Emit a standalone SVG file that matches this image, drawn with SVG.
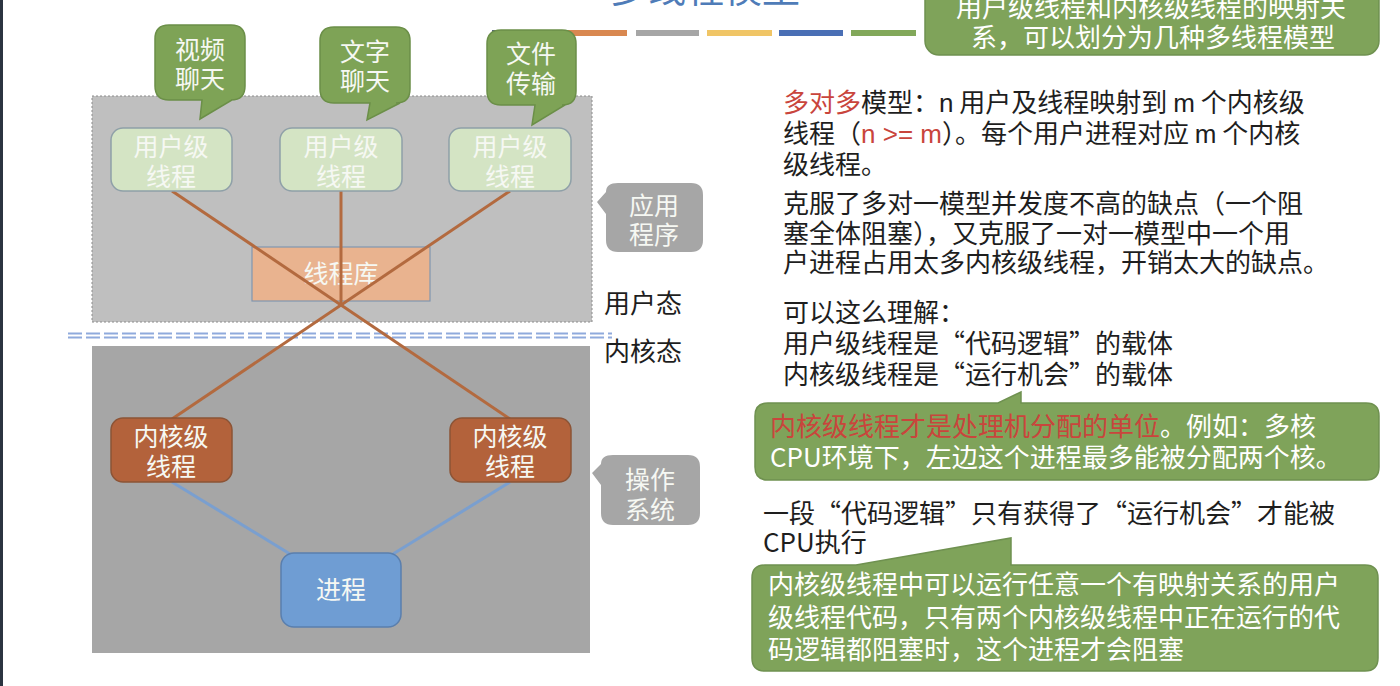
<svg xmlns="http://www.w3.org/2000/svg" width="1400" height="686" viewBox="0 0 1400 686">
<defs>
<style>
.cjk{font-family:"Noto Sans CJK SC","Noto Sans",sans-serif;}
.lbl{font-family:"Noto Sans CJK SC","Noto Sans",sans-serif;font-size:25px;fill:#f6f8f3;text-anchor:middle;}
.body{font-family:"Noto Sans CJK SC","Noto Sans",sans-serif;font-size:26px;fill:#1e1e1e;}
.wt{font-family:"Noto Sans CJK SC","Noto Sans",sans-serif;font-size:26px;fill:#ffffff;}
.red{fill:#c9453c;}
.bubble{fill:#7ea356;stroke:#6b8f48;stroke-width:1.5;}
.gcall{fill:#7fa35a;stroke:#6f9150;stroke-width:1.5;}
.ut{fill:#d4e4c4;stroke:#8fa0a8;stroke-width:1.5;}
.kt{fill:#b3623b;stroke:#8c5436;stroke-width:1.5;}
.gray{fill:#a6a6a6;}
.ol{stroke:#b36a3f;stroke-width:3;fill:none;}
.bl{stroke:#7a9fcf;stroke-width:3;fill:none;}
.sep{stroke:#8faadc;stroke-width:2;stroke-dasharray:14 4;fill:none;}
</style>
</defs>
<rect x="0" y="0" width="1400" height="686" fill="#ffffff"/>
<rect x="0" y="0" width="3" height="686" fill="#2b3440"/>

<!-- title and colour bars -->
<g id="title">
<text x="610" y="2" class="cjk" font-size="38" fill="#4f7cb8">多线程模型</text>
<rect x="492" y="30" width="66" height="6" fill="#56657a"/>
<rect x="563" y="30" width="64" height="6" fill="#d98850"/>
<rect x="636" y="30" width="63" height="6" fill="#a6a6a6"/>
<rect x="707" y="30" width="65" height="6" fill="#f0c566"/>
<rect x="779" y="30" width="64" height="6" fill="#4a6fb5"/>
<rect x="851" y="30" width="65" height="6" fill="#82a85a"/>
</g>

<!-- regions -->
<g id="user-space">
<rect x="92" y="96" width="500" height="226" fill="#bfbfbf" stroke="#8c8c8c" stroke-width="1" stroke-dasharray="2 2"/>
</g>
<g id="kernel-space">
<rect x="92" y="346" width="498" height="307" fill="#a6a6a6"/>
</g>
<g id="separator">
<line x1="68" y1="333.5" x2="612" y2="333.5" class="sep"/>
<line x1="68" y1="337.5" x2="612" y2="337.5" class="sep"/>
</g>

<!-- thread library -->
<g id="thread-lib">
<rect x="252" y="247" width="178" height="54" fill="#e9b38f" stroke="#8096b0" stroke-width="1.2"/>
<text x="341" y="283" class="lbl">线程库</text>
</g>

<!-- connectors -->
<g id="connectors">
<line x1="172" y1="191" x2="510" y2="419" class="ol"/>
<line x1="510" y1="191" x2="172" y2="419" class="ol"/>
<line x1="341" y1="191" x2="341" y2="304" class="ol"/>
<line x1="172" y1="482" x2="290" y2="554" class="bl"/>
<line x1="510" y1="482" x2="393" y2="554" class="bl"/>
</g>

<!-- speech bubbles -->
<g id="bubble-video">
<path d="M169,25 H231 Q245,25 245,39 V86 Q245,100 231,100 H232 L200,119 L202,100 H169 Q155,100 155,86 V39 Q155,25 169,25 Z" class="bubble"/>
<text x="200" y="59" class="lbl">视频</text>
<text x="200" y="88" class="lbl">聊天</text>
</g>
<g id="bubble-text">
<path d="M334,27 H396 Q410,27 410,41 V89 Q410,103 396,103 H400 L367,120 L370,103 H334 Q320,103 320,89 V41 Q320,27 334,27 Z" class="bubble"/>
<text x="365" y="61" class="lbl">文字</text>
<text x="365" y="90" class="lbl">聊天</text>
</g>
<g id="bubble-file">
<path d="M501,30 H562 Q576,30 576,44 V91 Q576,105 562,105 H565 L532,125 L535,105 H501 Q487,105 487,91 V44 Q487,30 501,30 Z" class="bubble"/>
<text x="531" y="63" class="lbl">文件</text>
<text x="531" y="93" class="lbl">传输</text>
</g>

<!-- user-level threads -->
<g id="ut1">
<rect x="111" y="128" width="121" height="63" rx="12" class="ut"/>
<text x="171" y="156" class="lbl">用户级</text>
<text x="171" y="186" class="lbl">线程</text>
</g>
<g id="ut2">
<rect x="280" y="128" width="122" height="63" rx="12" class="ut"/>
<text x="341" y="156" class="lbl">用户级</text>
<text x="341" y="186" class="lbl">线程</text>
</g>
<g id="ut3">
<rect x="449" y="128" width="122" height="63" rx="12" class="ut"/>
<text x="510" y="156" class="lbl">用户级</text>
<text x="510" y="186" class="lbl">线程</text>
</g>

<!-- kernel-level threads -->
<g id="kt1">
<rect x="111" y="418" width="121" height="64" rx="12" class="kt"/>
<text x="171" y="446" class="lbl">内核级</text>
<text x="171" y="476" class="lbl">线程</text>
</g>
<g id="kt2">
<rect x="450" y="418" width="121" height="64" rx="12" class="kt"/>
<text x="510" y="446" class="lbl">内核级</text>
<text x="510" y="476" class="lbl">线程</text>
</g>

<!-- process -->
<g id="process">
<rect x="281" y="553" width="120" height="74" rx="13" fill="#6f9dd3" stroke="#5a7fae" stroke-width="1.5"/>
<text x="341" y="599" class="lbl" font-size="27">进程</text>
</g>

<!-- side callouts -->
<g id="app-callout">
<path d="M618,183 H691 Q703,183 703,195 V240 Q703,252 691,252 H618 Q606,252 606,240 V214 L597,202 L606,192 Q606,183 618,183 Z" class="gray"/>
<text x="654" y="215" class="lbl" font-size="24">应用</text>
<text x="654" y="244" class="lbl" font-size="24">程序</text>
</g>
<g id="os-callout">
<path d="M613,455 H688 Q700,455 700,467 V513 Q700,525 688,525 H613 Q601,525 601,513 V485 L592,473 L601,464 Q601,455 613,455 Z" class="gray"/>
<text x="650" y="489" class="lbl" font-size="24">操作</text>
<text x="650" y="519" class="lbl" font-size="24">系统</text>
</g>

<g id="mode-labels">
<text x="604" y="313" class="body" font-size="24">用户态</text>
<text x="604" y="361" class="body" font-size="24">内核态</text>
</g>

<!-- top-right callout -->
<g id="callout-top">
<rect x="925" y="-20" width="454" height="75" rx="14" class="gcall"/>
<text x="1151" y="17" class="wt" text-anchor="middle">用户级线程和内核级线程的映射关</text>
<text x="1153" y="47" class="wt" text-anchor="middle">系，可以划分为几种多线程模型</text>
</g>

<!-- explanation text -->
<g id="text-main">
<text x="783" y="112" class="body"><tspan class="red">多对多</tspan>模型：<tspan font-family="Liberation Sans, sans-serif">n</tspan> 用户及线程映射到 <tspan font-family="Liberation Sans, sans-serif">m</tspan> 个内核级</text>
<text x="783" y="143" class="body">线程（<tspan class="red" font-family="Liberation Sans, sans-serif">n &gt;= m</tspan>）。每个用户进程对应 <tspan font-family="Liberation Sans, sans-serif">m</tspan> 个内核</text>
<text x="783" y="174" class="body">级线程。</text>
<text x="783" y="213" class="body">克服了多对一模型并发度不高的缺点（一个阻</text>
<text x="783" y="243" class="body">塞全体阻塞），又克服了一对一模型中一个用</text>
<text x="783" y="272" class="body">户进程占用太多内核级线程，开销太大的缺点。</text>
<text x="783" y="322" class="body">可以这么理解：</text>
<text x="783" y="353" class="body">用户级线程是“代码逻辑”的载体</text>
<text x="783" y="384" class="body">内核级线程是“运行机会”的载体</text>
</g>

<g id="callout-mid">
<path d="M768,403 H998 L1021,392 V403 H1366 Q1379,403 1379,416 V467 Q1379,480 1366,480 H768 Q755,480 755,467 V416 Q755,403 768,403 Z" class="gcall"/>
<text x="770" y="436" class="wt"><tspan class="red" fill="#c8432f">内核级线程才是处理机分配的单位</tspan>。例如：多核</text>
<text x="770" y="467" class="wt">CPU环境下，左边这个进程最多能被分配两个核。</text>
</g>

<g id="text-exec">
<text x="763" y="523" class="body">一段“代码逻辑”只有获得了“运行机会”才能被</text>
<text x="763" y="552" class="body">CPU执行</text>
</g>

<g id="callout-bottom">
<path d="M765,565 H856 L1011,538 V565 H1365 Q1378,565 1378,578 V658 Q1378,671 1365,671 H765 Q752,671 752,658 V578 Q752,565 765,565 Z" class="gcall"/>
<text x="768" y="594" class="wt">内核级线程中可以运行任意一个有映射关系的用户</text>
<text x="768" y="627" class="wt">级线程代码，只有两个内核级线程中正在运行的代</text>
<text x="768" y="659" class="wt">码逻辑都阻塞时，这个进程才会阻塞</text>
</g>
</svg>
